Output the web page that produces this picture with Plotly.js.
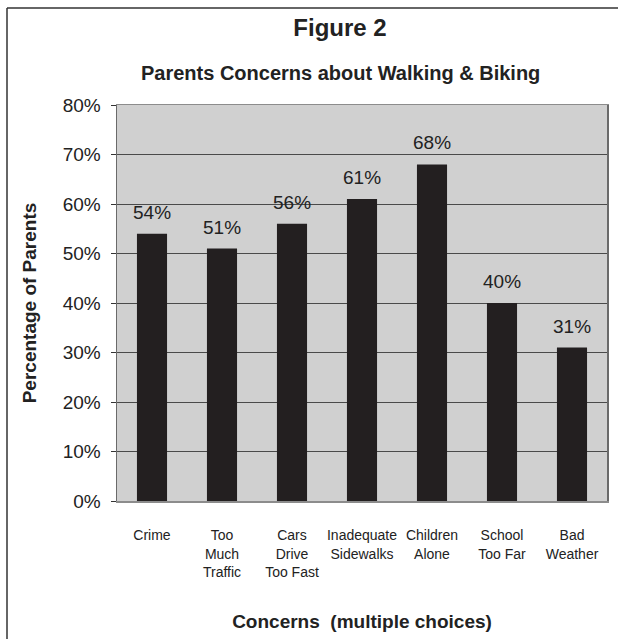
<!DOCTYPE html>
<html>
<head>
<meta charset="utf-8">
<script src="https://cdn.plot.ly/plotly-3.0.1.min.js"></script>
<style>
  html, body { margin: 0; padding: 0; background: #ffffff; }
  #chart { width: 618px; height: 639px; }
</style>
</head>
<body>
<div id="chart"></div>
<script>
// Parents' concerns about walking & biking to school (multiple choices allowed)
const categories = ['Crime', 'Too Much Traffic', 'Cars Drive Too Fast', 'Inadequate Sidewalks',
                    'Children Alone', 'School Too Far', 'Bad Weather'];
const categoryLabels = ['Crime', 'Too<br>Much<br>Traffic', 'Cars<br>Drive<br>Too Fast',
                        'Inadequate<br>Sidewalks', 'Children<br>Alone', 'School<br>Too Far',
                        'Bad<br>Weather'];
const percentParents = [54, 51, 56, 61, 68, 40, 31];
const yTickValues = [0, 10, 20, 30, 40, 50, 60, 70, 80];
const yTickLabels = ['0%', '10%', '20%', '30%', '40%', '50%', '60%', '70%', '80%'];

const FONT = '"Liberation Sans", Arial, sans-serif';
const INK = '#231f20';

const barTrace = {
  type: 'bar',
  x: categories,
  y: percentParents,
  marker: { color: INK, line: { width: 0 } },
  hoverinfo: 'skip'
};

// value labels above each bar
const valueLabels = categories.map((c, i) => ({
  x: c,
  y: percentParents[i],
  xref: 'x', yref: 'y',
  text: percentParents[i] + '%',
  showarrow: false,
  yanchor: 'bottom',
  yshift: 9,
  font: { family: FONT, size: 19, color: '#222222' }
}));

const layout = {
  width: 618,
  height: 639,
  margin: { l: 117, r: 11, t: 105, b: 138 },
  paper_bgcolor: '#ffffff',
  plot_bgcolor: '#d0d0d0',
  showlegend: false,
  bargap: 0.57,
  font: { family: FONT, color: '#222222' },
  title: {
    text: '<b>Figure 2</b>',
    font: { family: FONT, size: 24, color: '#222222' },
    x: 340 / 618, xanchor: 'center', xref: 'container',
    y: 1 - 28 / 639, yanchor: 'middle', yref: 'container'
  },
  xaxis: {
    type: 'category',
    tickmode: 'array',
    tickvals: categories,
    ticktext: categoryLabels,
    ticks: '',
    tickfont: { family: FONT, size: 14, color: '#222222' },
    ticklabelstandoff: 21,
    showgrid: false,
    zeroline: false,
    showline: true,
    mirror: true,
    linecolor: '#8c8c8c',
    linewidth: 1.5,
    fixedrange: true,
    title: {
      text: '<b>Concerns  (multiple choices)</b>',
      font: { family: FONT, size: 19, color: '#222222' },
      standoff: 36
    }
  },
  yaxis: {
    range: [0, 80],
    tickmode: 'array',
    tickvals: yTickValues,
    ticktext: yTickLabels,
    ticks: 'outside',
    ticklen: 5,
    tickcolor: '#333333',
    tickwidth: 1,
    tickfont: { family: FONT, size: 19, color: '#222222' },
    ticklabelstandoff: 6,
    showgrid: true,
    gridcolor: '#4a4a4a',
    gridwidth: 1,
    zeroline: false,
    showline: true,
    mirror: true,
    linecolor: '#6a6a6a',
    linewidth: 1.5,
    fixedrange: true,
    title: {
      text: '<b>Percentage of Parents</b>',
      font: { family: FONT, size: 19, color: '#222222' },
      standoff: 21
    }
  },
  annotations: [
    {
      text: '<b>Parents Concerns about Walking & Biking</b>',
      xref: 'paper', yref: 'paper',
      x: (340 - 117) / 490, y: 1 + (105 - 73) / 396,
      xanchor: 'center', yanchor: 'middle',
      showarrow: false,
      font: { family: FONT, size: 20, color: '#222222' }
    }
  ].concat(valueLabels),
  shapes: [
    // figure frame: left and top edges
    {
      type: 'line', xref: 'paper', yref: 'paper',
      x0: (7 - 117) / 490, x1: (7 - 117) / 490,
      y0: (501 - 645) / 396, y1: 1 + (105 - 8) / 396,
      line: { color: '#333333', width: 1.5 }
    },
    {
      type: 'line', xref: 'paper', yref: 'paper',
      x0: (7 - 117) / 490, x1: (625 - 117) / 490,
      y0: 1 + (105 - 8) / 396, y1: 1 + (105 - 8) / 396,
      line: { color: '#333333', width: 1.5 }
    }
  ]
};

Plotly.newPlot('chart', [barTrace], layout, { displayModeBar: false, staticPlot: true });
</script>
</body>
</html>
